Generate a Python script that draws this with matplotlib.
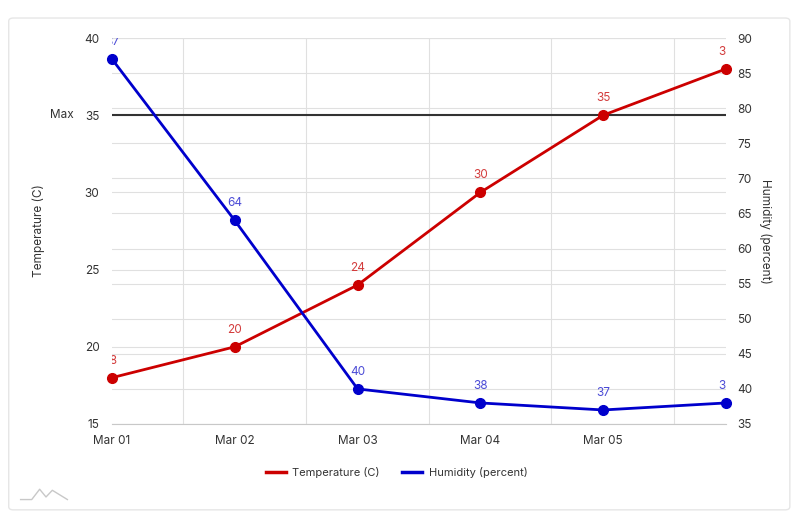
import matplotlib.pyplot as plt
from matplotlib.patches import FancyBboxPatch
from matplotlib.lines import Line2D
import matplotlib.transforms as mtransforms

plt.rcParams['font.family'] = ['Inter', 'DejaVu Sans']

days = ['Mar 01', 'Mar 02', 'Mar 03', 'Mar 04', 'Mar 05', 'Mar 06']
temperature = [18, 20, 24, 30, 35, 38]
humidity = [87, 64, 40, 38, 37, 38]
max_temp = 35

red = '#cc0000'
blue = '#0000cc'
x = list(range(len(days)))
fs = 8.5

fig = plt.figure(figsize=(7.93, 5.15), dpi=100)
card = FancyBboxPatch((0.011, 0.01), 0.985, 0.955, boxstyle='round,pad=0,rounding_size=0.006',
                      transform=fig.transFigure, facecolor='white', edgecolor='#e6e6e6', lw=1,
                      zorder=-10)
fig.patches.append(card)

ax = fig.add_axes([0.1412, 0.1767, 0.7743, 0.7495])
ax2 = ax.twinx()
ax.patch.set_visible(False)
ax2.patch.set_visible(False)

ax.set_xlim(0, 5)
ax.set_ylim(15, 40)
ax2.set_ylim(35, 90)

# grids, all drawn on the bottom axes so lines sit above them
for t in range(15, 41, 5):
    ax.axhline(t, color='#e0e0e0', lw=0.8, zorder=0)
htrans = mtransforms.blended_transform_factory(ax.transAxes, ax2.transData)
for h in range(35, 91, 5):
    ax.add_line(Line2D([0, 1], [h, h], transform=htrans, color='#e0e0e0', lw=0.8, zorder=0))
for i in range(5):
    ax.axvline(i + 0.578, color='#e0e0e0', lw=0.8, zorder=0)

ax.axhline(max_temp, color='#333333', lw=1.5, zorder=2)
ax.text(-0.31, max_temp, 'Max', ha='right', va='center', fontsize=fs, color='#333333')

ax.plot(x, temperature, color=red, lw=2, marker='o', ms=7, zorder=4, clip_on=False)
ax2.plot(x, humidity, color=blue, lw=2, marker='o', ms=7, zorder=4, clip_on=False)
ax2.plot([], [], color=red, lw=2.5, label='Temperature (C)')
ax2.plot([], [], color=blue, lw=2.5, label='Humidity (percent)')

for xi, v in zip(x, temperature):
    ax.annotate(str(v), (xi, v), xytext=(0, 8), textcoords='offset points', ha='center',
                va='bottom', fontsize=fs, color='#d33c3c', clip_on=True, annotation_clip=False)
for xi, v in zip(x, humidity):
    ax2.annotate(str(v), (xi, v), xytext=(0, 8), textcoords='offset points', ha='center',
                 va='bottom', fontsize=fs, color='#4b4bd6', clip_on=True, annotation_clip=False)

ax.set_yticks(range(15, 41, 5))
ax2.set_yticks(range(35, 91, 5))
ax.set_xticks(x[:-1])
ax.set_xticklabels(days[:-1])
offset = mtransforms.ScaledTranslation(10 / 100, 0, fig.dpi_scale_trans)
for lab in ax.get_xticklabels():
    lab.set_transform(lab.get_transform() + offset)

for a in (ax, ax2):
    for s in a.spines.values():
        s.set_visible(False)
    a.tick_params(length=0, labelsize=fs, colors='#333333')
ax.spines['bottom'].set_visible(True)
ax.spines['bottom'].set_color('#c8c8c8')
ax.tick_params(axis='y', pad=9)
ax2.tick_params(axis='y', pad=8)
ax.tick_params(axis='x', pad=8)

ax.set_ylabel('Temperature (C)', fontsize=fs, color='#333333', labelpad=28)
ax2.set_ylabel('Humidity (percent)', fontsize=fs, color='#333333', rotation=270, labelpad=14)

fig.legend(loc='center', bbox_to_anchor=(0.5, 0.083), ncol=2, frameon=False, fontsize=8,
           handlelength=1.8, handletextpad=0.6, columnspacing=2.0, labelcolor='#333333')

# small logo mark bottom-left
fig.lines.append(Line2D([0.026, 0.04, 0.05, 0.058, 0.066, 0.085],
                        [0.03, 0.03, 0.05, 0.035, 0.048, 0.03],
                        transform=fig.transFigure, color='#c8c8c8', lw=1))

fig.savefig('out.png', dpi=100, facecolor='white')
